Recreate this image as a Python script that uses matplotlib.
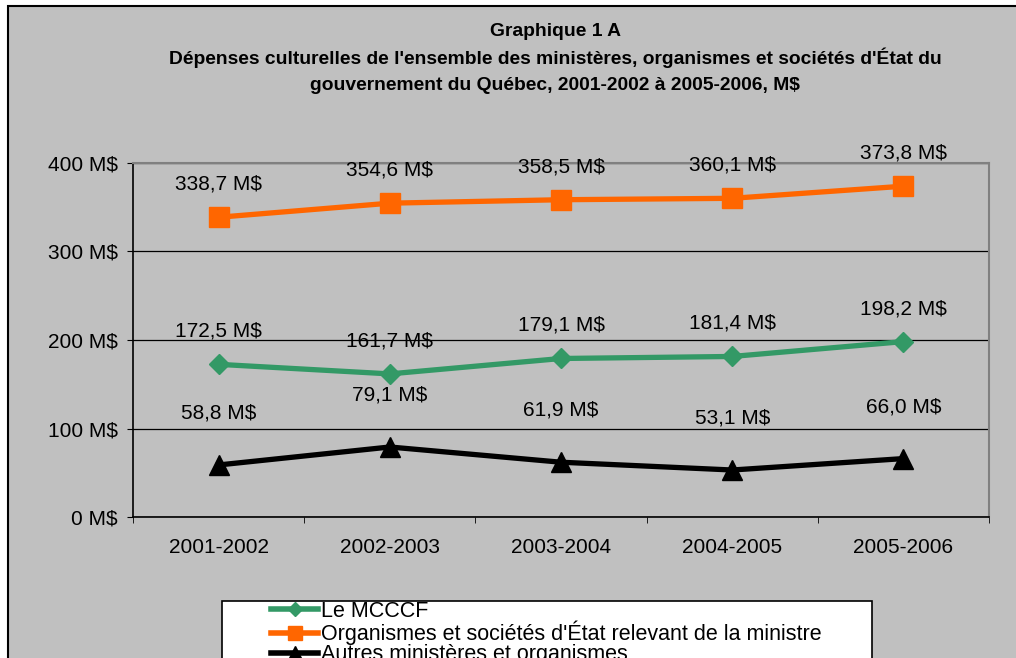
import matplotlib
matplotlib.use('Agg')
import matplotlib.pyplot as plt
from matplotlib.patches import Rectangle
from matplotlib.lines import Line2D
from matplotlib.ticker import FixedLocator

# Data
years = ['2001-2002', '2002-2003', '2003-2004', '2004-2005', '2005-2006']
mcccf = [172.5, 161.7, 179.1, 181.4, 198.2]
organismes = [338.7, 354.6, 358.5, 360.1, 373.8]
autres = [58.8, 79.1, 61.9, 53.1, 66.0]
y_ticks = [0, 100, 200, 300, 400]
y_tick_labels = ['0 M$', '100 M$', '200 M$', '300 M$', '400 M$']
series_names = ['Le MCCCF',
                "Organismes et sociétés d'État relevant de la ministre",
                'Autres ministères et organismes']
title_lines = ['Graphique 1 A',
               "Dépenses culturelles de l'ensemble des ministères, organismes et sociétés d'État du",
               'gouvernement du Québec, 2001-2002 à 2005-2006, M$']

plt.rcParams['font.family'] = ['Liberation Sans', 'DejaVu Sans']

W, H = 1016, 658
bg = '#c0c0c0'
fs = 15
fig = plt.figure(figsize=(W / 100, H / 100), dpi=100, facecolor='white')

# Chart frame (cut off at right and bottom)
fig.patches.append(Rectangle((8 / W, -0.1), 1.2, 1.1 - 6 / H, transform=fig.transFigure,
                             facecolor=bg, edgecolor='black', linewidth=1.5, zorder=0))

ax = fig.add_axes([133 / W, 1 - 517 / H, (989 - 133) / W, (517 - 163) / H])
ax.set_zorder(2)
ax.set_facecolor(bg)

x = list(range(len(years)))
styles = [
    (mcccf, '#339966', 'D', 10, 33),
    (organismes, '#ff6600', 's', 15, 33),
    (autres, 'black', '^', 14, 52),
]
for (vals, color, marker, ms, off), name in zip(styles, series_names):
    ax.plot(x, vals, color=color, lw=3.8, marker=marker, markersize=ms,
            markeredgecolor=color, markerfacecolor=color, label=name, zorder=3)
    for xi, v in zip(x, vals):
        ax.annotate(f'{v:.1f}'.replace('.', ',') + ' M$', (xi, v), xytext=(0, off),
                    textcoords='offset pixels', ha='center', va='center', fontsize=fs)

ax.set_xlim(-0.5, len(years) - 0.5)
ax.set_ylim(0, 400)
ax.set_xticks(x)
ax.set_xticklabels(years, fontsize=fs)
ax.tick_params(axis='x', which='major', length=0, pad=15)
ax.xaxis.set_minor_locator(FixedLocator([i - 0.5 for i in range(len(years) + 1)]))
ax.tick_params(axis='x', which='minor', length=4, direction='out', color='black')
ax.set_yticks(y_ticks)
ax.set_yticklabels(y_tick_labels, fontsize=fs)
ax.tick_params(axis='y', length=4, direction='out', pad=7)

ax.grid(axis='y', color='black', lw=0.9, zorder=1)
ax.set_axisbelow(True)
for side in ['left', 'bottom']:
    ax.spines[side].set_color('black')
    ax.spines[side].set_linewidth(1.2)
for side in ['top', 'right']:
    ax.spines[side].set_color('#808080')
    ax.spines[side].set_linewidth(1.5)

# Title
for i, line in enumerate(title_lines):
    fig.text(555 / W, 1 - (31 + 27 * i) / H, line, ha='center', va='center',
             fontsize=13.9, fontweight='bold')

# Legend box (white, cut off at bottom)
fig.patches.append(Rectangle((222 / W, -0.1), (872 - 222) / W, 0.1 + 1 - 601 / H,
                             transform=fig.transFigure, facecolor='white',
                             edgecolor='black', linewidth=1.2, zorder=1))
leg_handles = [Line2D([], [], color=color, lw=4, marker=marker, markersize=ms * 0.7,
                      markeredgecolor=color, markerfacecolor=color, label=name)
               for (vals, color, marker, ms, off), name in zip(styles, series_names)]
leg = fig.legend(handles=leg_handles, loc='upper left',
                 bbox_to_anchor=(271 / W, 1 - 601 / H), frameon=False,
                 fontsize=15.5, handlelength=2.2, handletextpad=0.1,
                 labelspacing=-0.05, borderpad=0, borderaxespad=0)
leg.set_zorder(5)

fig.savefig('out.png', dpi=100, facecolor='white')
